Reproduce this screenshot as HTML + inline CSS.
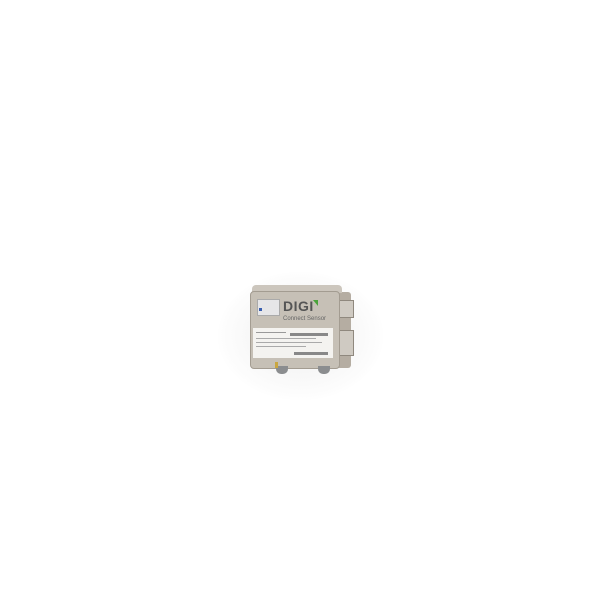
<!DOCTYPE html>
<html><head><meta charset="utf-8"><style>
html,body{margin:0;padding:0;background:#fff;width:600px;height:593px;overflow:hidden;position:relative;font-family:"Liberation Sans",sans-serif}
.a{position:absolute}
</style></head><body>
<div class="a" style="left:218px;top:272px;width:165px;height:128px;border-radius:50%;background:radial-gradient(ellipse,#f7f7f7 40%,#fff 75%)"></div>
<!-- side -->
<div class="a" style="left:333px;top:292px;width:18px;height:76px;background:#b5ada2;border-radius:3px"></div>
<div class="a" style="left:338px;top:300px;width:14px;height:16px;background:#cfcac2;border:1px solid #8f887e"></div>
<div class="a" style="left:338px;top:330px;width:14px;height:24px;background:#cfcac2;border:1px solid #8f887e"></div>
<!-- top rim -->
<div class="a" style="left:252px;top:285px;width:90px;height:8px;background:#ccc6bd;border-radius:4px 4px 0 0"></div>
<!-- face -->
<div class="a" style="left:250px;top:291px;width:88px;height:76px;background:#c6c0b6;border-radius:4px;border:1px solid #a39c91"></div>
<!-- LED panel -->
<div class="a" style="left:257px;top:299px;width:21px;height:15px;background:#e6e6e8;border:1px solid #aaa"></div>
<div class="a" style="left:259px;top:308px;width:3px;height:3px;background:#3a5fb0"></div>
<!-- logo -->
<div class="a" style="left:283px;top:298px;font-size:14px;font-weight:bold;color:#555;letter-spacing:0.5px">DIGI</div>
<div class="a" style="left:313px;top:300px;width:0;height:0;border-left:5px solid transparent;border-top:6px solid #4aa33a"></div>
<div class="a" style="left:283px;top:316px;font-size:6px;color:#666">Connect Sensor</div>
<!-- label -->
<div class="a" style="left:253px;top:328px;width:80px;height:30px;background:#f4f3f0"></div>
<div class="a" style="left:256px;top:332px;width:30px;height:1px;background:#999"></div>
<div class="a" style="left:290px;top:333px;width:38px;height:3px;background:#888"></div>
<div class="a" style="left:256px;top:338px;width:60px;height:1px;background:#aaa"></div>
<div class="a" style="left:256px;top:342px;width:66px;height:1px;background:#aaa"></div>
<div class="a" style="left:256px;top:346px;width:50px;height:1px;background:#aaa"></div>
<div class="a" style="left:294px;top:352px;width:34px;height:3px;background:#888"></div>
<!-- bottom connectors -->
<div class="a" style="left:276px;top:366px;width:12px;height:8px;background:#8b8d8f;border-radius:0 0 5px 5px"></div>
<div class="a" style="left:318px;top:366px;width:12px;height:8px;background:#8b8d8f;border-radius:0 0 5px 5px"></div>
<div class="a" style="left:275px;top:362px;width:3px;height:6px;background:#c9a640"></div>
</body></html>
